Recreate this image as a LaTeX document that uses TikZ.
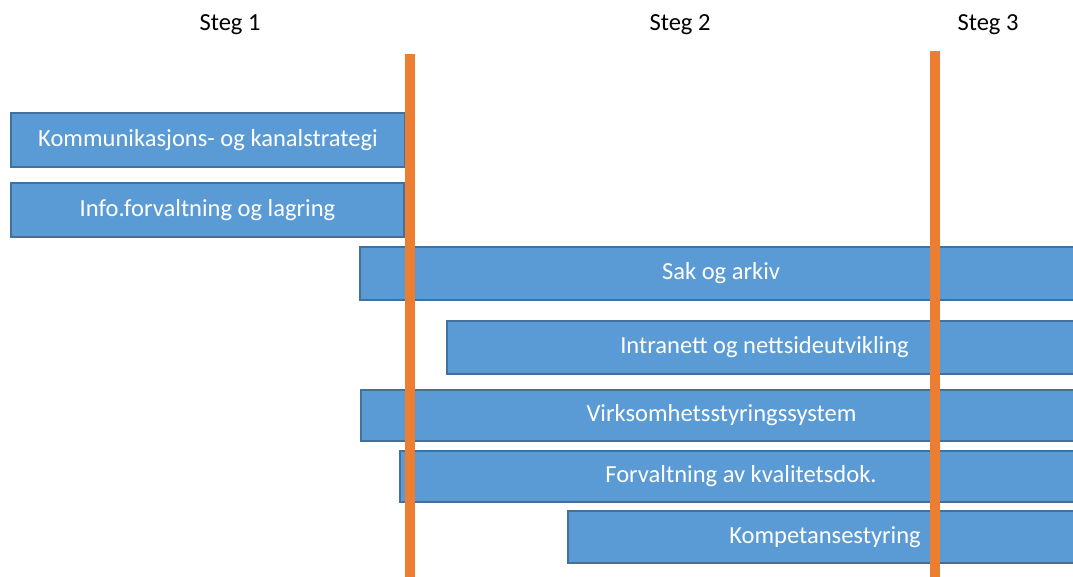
\documentclass[tikz,border=0pt]{standalone}
\usepackage{fontspec}
\setmainfont{Carlito}
\definecolor{barblue}{HTML}{5B9BD5}
\definecolor{baredge}{HTML}{41719C}
\definecolor{stegorange}{HTML}{ED7D31}
\tikzset{
	bar/.style={draw=baredge, fill=barblue, line width=1.5pt, text=white, inner sep=0pt},
	stegline/.style={stegorange, line width=7.5pt},
	steglabel/.style={text=black}
}
\begin{document}
\begin{tikzpicture}[x=0.75pt, y=-0.75pt, every node/.style={font=\fontsize{18.4}{22}\selectfont}]
	\clip (0,0) rectangle (1073,577);
	% steg headings
	\node[steglabel] (steg1) at (230,25) {Steg 1};
	\node[steglabel] (steg2) at (680,25) {Steg 2};
	\node[steglabel] (steg3) at (988,25) {Steg 3};
	% bars
	\node[bar, minimum width=295.5pt, minimum height=40.5pt] (kanal) at (208,140.5) {Kommunikasjons- og kanalstrategi};
	\node[bar, minimum width=294.75pt, minimum height=40.5pt] (info) at (207.5,210) {Info.forvaltning og lagring};
	\node[bar, minimum width=541.5pt, minimum height=39.75pt] (sak) at (721,273.5) {Sak og arkiv};
	\node[bar, minimum width=476.25pt, minimum height=39.75pt] (intra) at (764.5,347.5) {Intranett og nettsideutvikling};
	\node[bar, minimum width=540.75pt, minimum height=38.25pt] (virk) at (721.5,415.5) {Virksomhetsstyringssystem};
	\node[bar, minimum width=511.5pt, minimum height=38.25pt] (kval) at (741,476.5) {Forvaltning av kvalitetsdok.};
	\node[bar, minimum width=385.5pt, minimum height=39pt] (komp) at (825,537) {Kompetansestyring};
	% phase limits
	\coordinate (grense1top) at (410,54);
	\coordinate (grense1bot) at (410,580);
	\coordinate (grense2top) at (935,51);
	\coordinate (grense2bot) at (935,580);
	\draw[stegline] (grense1top) -- (grense1bot);
	\draw[stegline] (grense2top) -- (grense2bot);
\end{tikzpicture}
\end{document}
